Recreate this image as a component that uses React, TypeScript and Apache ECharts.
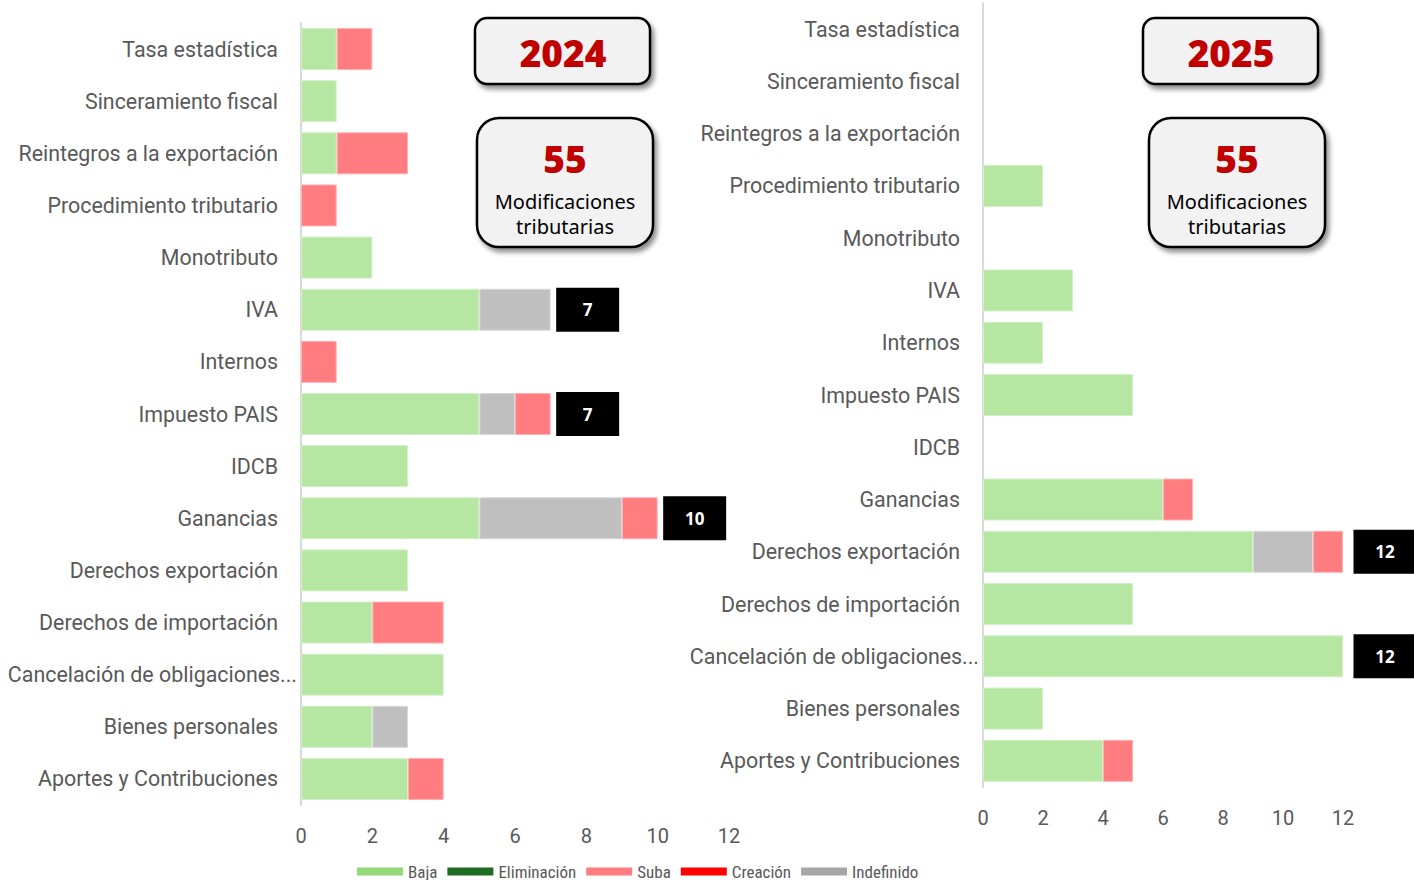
import React, { useEffect, useRef } from "react";
import * as echarts from "echarts";

const categories = [
  "Tasa estadística",
  "Sinceramiento fiscal",
  "Reintegros a la exportación",
  "Procedimiento tributario",
  "Monotributo",
  "IVA",
  "Internos",
  "Impuesto PAIS",
  "IDCB",
  "Ganancias",
  "Derechos exportación",
  "Derechos de importación",
  "Cancelación de obligaciones...",
  "Bienes personales",
  "Aportes y Contribuciones",
];

const seriesNames = ["Baja", "Eliminación", "Suba", "Creación", "Indefinido"];

// 2024
const baja2024 = [1, 1, 1, 0, 2, 5, 0, 5, 3, 5, 3, 2, 4, 2, 3];
const eliminacion2024 = [0, 0, 0, 0, 0, 0, 0, 0, 0, 0, 0, 0, 0, 0, 0];
const suba2024 = [1, 0, 2, 1, 0, 0, 1, 1, 0, 1, 0, 2, 0, 0, 1];
const creacion2024 = [0, 0, 0, 0, 0, 0, 0, 0, 0, 0, 0, 0, 0, 0, 0];
const indefinido2024 = [0, 0, 0, 0, 0, 2, 0, 1, 0, 4, 0, 0, 0, 1, 0];
const labeled2024 = ["IVA", "Impuesto PAIS", "Ganancias"];

// 2025
const baja2025 = [0, 0, 0, 2, 0, 3, 2, 5, 0, 6, 9, 5, 12, 2, 4];
const eliminacion2025 = [0, 0, 0, 0, 0, 0, 0, 0, 0, 0, 0, 0, 0, 0, 0];
const suba2025 = [0, 0, 0, 0, 0, 0, 0, 0, 0, 1, 1, 0, 0, 0, 1];
const creacion2025 = [0, 0, 0, 0, 0, 0, 0, 0, 0, 0, 0, 0, 0, 0, 0];
const indefinido2025 = [0, 0, 0, 0, 0, 0, 0, 0, 0, 0, 2, 0, 0, 0, 0];
const labeled2025 = ["Derechos exportación", "Cancelación de obligaciones..."];

const xTicks = { min: 0, max: 12, interval: 2 };
const totalModifications = ["55", "55"];
const years = ["2024", "2025"];

const barColors: Record<string, string> = {
  Baja: "#b5e6a2",
  Eliminación: "#1e6b22",
  Suba: "#ff7c80",
  Creación: "#ff0000",
  Indefinido: "#bfbfbf",
};
const barBorders: Record<string, string> = {
  Baja: "#d3f0c8",
  Eliminación: "#1e6b22",
  Suba: "#ffb0b2",
  Creación: "#ff0000",
  Indefinido: "#d9d9d9",
};
const legendColors: Record<string, string> = {
  Baja: "#92d978",
  Eliminación: "#1e6b22",
  Suba: "#ff7c80",
  Creación: "#ff0000",
  Indefinido: "#a6a6a6",
};

const FONT = "Roboto, 'Noto Sans', sans-serif";
const TEXT = "#595959";

function buildSeries(
  gridIdx: number,
  data: Record<string, number[]>,
  labeled: string[],
  labelGap: number
) {
  const order = ["Baja", "Eliminación", "Indefinido", "Suba", "Creación"];
  const out: any[] = order.map((name) => ({
    name,
    type: "bar",
    stack: "s" + gridIdx,
    xAxisIndex: gridIdx,
    yAxisIndex: gridIdx,
    barWidth: 42,
    itemStyle: {
      color: barColors[name],
      borderColor: barBorders[name],
      borderWidth: 1,
    },
    data: data[name].map((v) => (v === 0 ? "-" : v)),
  }));
  const totals = categories.map((_, i) =>
    seriesNames.reduce((s, n) => s + data[n][i], 0)
  );
  out.push({
    name: "total" + gridIdx,
    type: "scatter",
    xAxisIndex: gridIdx,
    yAxisIndex: gridIdx,
    symbolSize: 1,
    itemStyle: { color: "rgba(0,0,0,0)", opacity: 1 },
    data: categories
      .map((c, i) => (labeled.includes(c) ? [totals[i], i] : null))
      .filter((d) => d !== null),
    label: {
      show: true,
      position: "right",
      distance: labelGap,
      opacity: 1,
      formatter: (p: any) => `{t|${p.value[0]}}`,
      rich: {
        t: {
          width: 63,
          height: 44,
          lineHeight: 44,
          align: "center",
          backgroundColor: "#000000",
          color: "#ffffff",
          fontWeight: "bold",
          fontSize: 17,
          fontFamily: "'Open Sans', sans-serif",
        },
      },
    },
    z: 5,
  });
  return out;
}

function makeBox(
  x: number,
  y: number,
  w: number,
  h: number,
  r: number,
  children: any[]
) {
  return {
    type: "group",
    x,
    y,
    children: [
      {
        type: "rect",
        shape: { x: 0, y: 0, width: w, height: h, r },
        style: {
          fill: "#f2f2f2",
          stroke: "#000",
          lineWidth: 2.5,
          shadowBlur: 5,
          shadowOffsetX: 3,
          shadowOffsetY: 4,
          shadowColor: "rgba(0,0,0,0.45)",
        },
      },
      ...children,
    ],
  };
}

function yearBox(x: number, y: number, year: string) {
  return makeBox(x, y, 175, 66, 12, [
    {
      type: "text",
      x: 88,
      y: 34,
      style: {
        text: year,
        fill: "#c00000",
        font: "800 37px 'Open Sans', sans-serif",
        align: "center",
        verticalAlign: "middle",
      },
    },
  ]);
}

function countBox(x: number, y: number, n: string) {
  return makeBox(x, y, 176, 129, 22, [
    {
      type: "text",
      x: 88,
      y: 40,
      style: {
        text: n,
        fill: "#c00000",
        font: "800 37px 'Open Sans', sans-serif",
        align: "center",
        verticalAlign: "middle",
      },
    },
    {
      type: "text",
      x: 88,
      y: 96,
      style: {
        text: "Modificaciones\ntributarias",
        fill: "#000",
        font: "20px 'Noto Sans', sans-serif",
        lineHeight: 25,
        align: "center",
        verticalAlign: "middle",
      },
    },
  ]);
}

export default function App() {
  const ref = useRef<HTMLDivElement>(null);
  useEffect(() => {
    if (!ref.current) return;
    const chart = echarts.init(ref.current, undefined, { renderer: "svg" });

    const yData = categories.map((c) =>
      c.endsWith("...") ? c : { value: c, textStyle: { padding: [0, 19, 0, 0] } }
    );

    const xAxisBase = {
      type: "value",
      min: xTicks.min,
      max: xTicks.max,
      interval: xTicks.interval,
      splitLine: { show: false },
      axisLine: { show: false },
      axisTick: { show: false },
      axisLabel: { color: TEXT, fontSize: 20, fontFamily: FONT, margin: 21 },
    };
    const yAxisBase = {
      type: "category",
      inverse: true,
      data: yData,
      axisTick: { show: false },
      axisLine: { show: true, lineStyle: { color: "#d9d9d9", width: 2 } },
      axisLabel: { color: TEXT, fontSize: 21.4, fontFamily: FONT, margin: 4 },
    };

    const data2024: Record<string, number[]> = {
      Baja: baja2024,
      Eliminación: eliminacion2024,
      Suba: suba2024,
      Creación: creacion2024,
      Indefinido: indefinido2024,
    };
    const data2025: Record<string, number[]> = {
      Baja: baja2025,
      Eliminación: eliminacion2025,
      Suba: suba2025,
      Creación: creacion2025,
      Indefinido: indefinido2025,
    };

    chart.setOption({
      animation: false,
      backgroundColor: "#fff",
      grid: [
        { left: 301, top: 23, width: 428, height: 782 },
        { left: 983, top: 3, width: 360, height: 784 },
      ],
      xAxis: [
        { ...xAxisBase, gridIndex: 0 },
        { ...xAxisBase, gridIndex: 1 },
      ],
      yAxis: [
        { ...yAxisBase, gridIndex: 0 },
        { ...yAxisBase, gridIndex: 1 },
      ],
      legend: {
        left: 357,
        top: 863,
        padding: 0,
        itemWidth: 46,
        itemHeight: 8,
        itemGap: 10,
        selectedMode: false,
        textStyle: {
          color: TEXT,
          fontSize: 17,
          lineHeight: 17,
          fontFamily: "'Liberation Sans Narrow', 'Roboto Condensed', Roboto, sans-serif",
        },
        data: seriesNames.map((n) => ({
          name: n,
          icon: "rect",
          itemStyle: { color: legendColors[n], borderWidth: 0 },
        })),
      },
      series: [
        ...buildSeries(0, data2024, labeled2024, 5),
        ...buildSeries(1, data2025, labeled2025, 10),
      ],
      graphic: [
        yearBox(475, 18, years[0]),
        countBox(477, 118, totalModifications[0]),
        yearBox(1143, 18, years[1]),
        countBox(1149, 118, totalModifications[1]),
      ],
    });
    return () => chart.dispose();
  }, []);
  return (
    <div
      ref={ref}
      style={{ position: "fixed", left: 0, top: 0, width: 1414, height: 880 }}
    />
  );
}
